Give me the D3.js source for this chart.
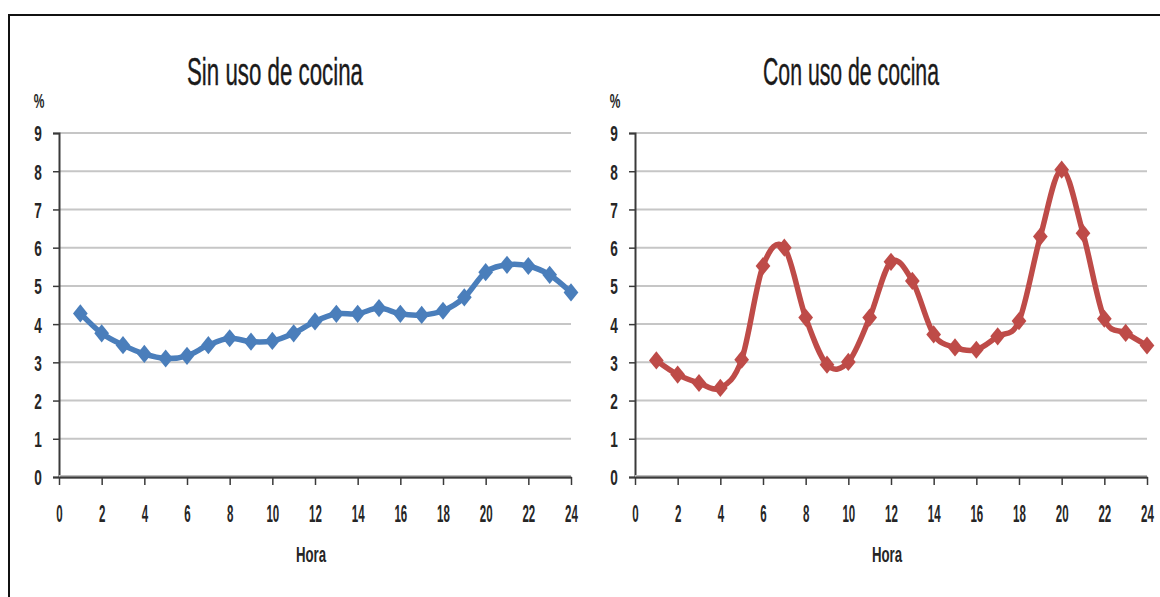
<!DOCTYPE html>
<html>
<head>
<meta charset="utf-8">
<script src="https://cdn.jsdelivr.net/npm/d3@7/dist/d3.min.js"></script>
<style>
  body { margin: 0; background: #fff; }
  svg text { font-family: "Liberation Sans", Arial, sans-serif; fill: #262626; }
</style>
</head>
<body>
<script>
// data
const hours = d3.range(1, 25);
const sinCocina = [4.28, 3.76, 3.45, 3.22, 3.10, 3.17, 3.45, 3.63, 3.54, 3.56, 3.76, 4.07,
  4.27, 4.27, 4.42, 4.27, 4.24, 4.35, 4.70, 5.36, 5.55, 5.52, 5.29, 4.83];
const conCocina = [3.05, 2.68, 2.46, 2.33, 3.07, 5.52, 6.00, 4.17, 2.94, 3.01, 4.17, 5.63,
  5.13, 3.73, 3.39, 3.33, 3.68, 4.08, 6.29, 8.04, 6.38, 4.14, 3.77, 3.44];
const xTicks = d3.range(0, 25, 2);
const yTicks = d3.range(0, 10);

const width = 1160, height = 597;

const svg = d3.select('body').append('svg')
  .attr('width', width)
  .attr('height', height);

// outer frame (right and bottom edges fall off the picture)
svg.append('rect')
  .attr('x', 9).attr('y', 15)
  .attr('width', 1170).attr('height', 620)
  .attr('fill', 'none')
  .attr('stroke', '#111')
  .attr('stroke-width', 2);

// the original uses a narrow face, so text is squeezed sideways
function label(g, x, y, txt, size, sx) {
  return g.append('text')
    .attr('transform', `translate(${x},${y}) scale(${sx},1)`)
    .attr('text-anchor', 'middle')
    .style('font-size', size + 'px')
    .style('font-weight', 'bold')
    .text(txt);
}

function panel(left, title, values, color) {
  const plotW = 512;
  const x = d3.scaleLinear().domain([0, 24]).range([left, left + plotW]);
  const y = d3.scaleLinear().domain([0, 9]).range([477, 133]);
  const g = svg.append('g');

  // title
  g.append('text')
    .attr('x', left + plotW / 2 - 40)
    .attr('y', 85)
    .attr('text-anchor', 'middle')
    .attr('textLength', 176)
    .attr('lengthAdjust', 'spacingAndGlyphs')
    .style('font-size', '39px')
    .style('fill', '#1a1a1a')
    .style('stroke', '#1a1a1a')
    .style('stroke-width', 0.4)
    .text(title);

  label(g, left - 20, 108, '%', 20, 0.6);

  // grid lines
  g.append('g')
    .selectAll('line')
    .data(yTicks.filter(d => d > 0))
    .enter().append('line')
    .attr('x1', x(0)).attr('x2', x(24))
    .attr('y1', d => y(d)).attr('y2', d => y(d))
    .attr('stroke', '#c6c6c6')
    .attr('stroke-width', 2);

  // y axis
  const yAxis = g.append('g')
    .attr('transform', `translate(${x(0)},0)`)
    .call(d3.axisLeft(y).tickValues(yTicks).tickSize(6));
  yAxis.select('.domain').attr('stroke', '#3a3a3a').attr('stroke-width', 2);
  yAxis.selectAll('.tick line').attr('stroke', '#3a3a3a').attr('stroke-width', 1.5);
  yAxis.selectAll('.tick text')
    .style('font-size', '22px').style('font-weight', 'bold')
    .attr('text-anchor', 'middle')
    .attr('x', 0).attr('dy', '0.36em')
    .attr('transform', 'translate(-21,0) scale(0.62,1)');

  // x axis
  g.append('line')
    .attr('x1', x(0)).attr('x2', x(24))
    .attr('y1', y(0)).attr('y2', y(0))
    .attr('stroke', '#bdbdbd').attr('stroke-width', 4);
  const xAxis = g.append('g')
    .attr('transform', `translate(0,${y(0)})`)
    .call(d3.axisBottom(x).tickValues(xTicks).tickSize(8).tickSizeOuter(0));
  xAxis.select('.domain').attr('stroke', '#3a3a3a').attr('stroke-width', 2);
  xAxis.selectAll('.tick line').attr('stroke', '#3a3a3a').attr('stroke-width', 1.5);
  xAxis.selectAll('.tick text')
    .style('font-size', '23px').style('font-weight', 'bold')
    .attr('y', 0).attr('dy', 0)
    .attr('transform', 'translate(0,45) scale(0.5,1)');

  label(g, left + plotW / 2 - 4, 562, 'Hora', 22, 0.6);

  // series
  const line = d3.line()
    .x((d, i) => x(hours[i]))
    .y(d => y(d))
    .curve(d3.curveCardinal.tension(0));

  g.append('path')
    .datum(values)
    .attr('d', line)
    .attr('fill', 'none')
    .attr('stroke', color)
    .attr('stroke-width', 5.5)
    .attr('stroke-linejoin', 'round');

  // diamonds, a little taller than wide
  g.append('g')
    .selectAll('path')
    .data(values)
    .enter().append('path')
    .attr('d', d3.symbol(d3.symbolSquare, 150))
    .attr('transform', (d, i) => `translate(${x(hours[i])},${y(d)}) scale(0.85,1.05) rotate(45)`)
    .attr('fill', color);
}

panel(59, 'Sin uso de cocina', sinCocina, '#4a7ebb');
panel(635, 'Con uso de cocina', conCocina, '#be4b48');
</script>
</body>
</html>
